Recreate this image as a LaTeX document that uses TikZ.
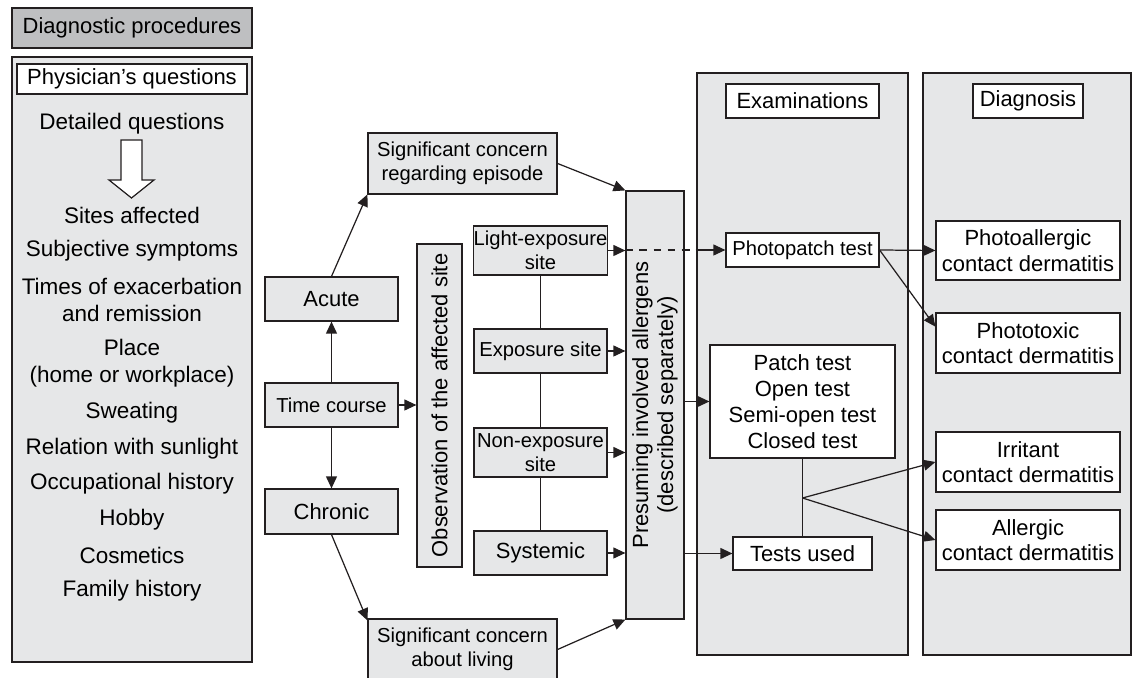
\documentclass[tikz,border=0pt]{standalone}
\usepackage{fontspec}
\setmainfont{Liberation Sans}
\usepackage{tikz}
\usetikzlibrary{arrows.meta, positioning}
\usepackage{xcolor}
\definecolor{boxgray}{RGB}{230,231,232}
\definecolor{headgray}{RGB}{190,191,193}
\definecolor{linegray}{RGB}{35,31,32}

\begin{document}
\begin{tikzpicture}[
        x=0.02cm, y=-0.02cm,
        box/.style={draw=linegray, fill=boxgray, rectangle, inner sep=0pt, align=center, font=\fontsize{12.5}{14.5}\selectfont},
        smallbox/.style={box, font=\fontsize{11.5}{13.7}\selectfont},
        whitebox/.style={box, fill=white},
        panel/.style={draw=linegray, fill=boxgray, rectangle, inner sep=0pt},
        item/.style={align=center, inner sep=0pt, font=\fontsize{12.8}{15.4}\selectfont},
        vtext/.style={rotate=90, align=center, inner sep=0pt, font=\fontsize{12.5}{14.2}\selectfont},
        >={Triangle[length=6.8pt,width=6.2pt]},
        line width=0.7pt
      ]

      \clip (0,0) rectangle (1134,678);

      % Diagnostic procedures
      \node [box, fill=headgray, minimum width=4.8cm, minimum height=0.8cm] (diag) at (132,28) {Diagnostic procedures};
      \node [panel, minimum width=4.8cm, minimum height=12.1cm] (leftpanel) at (132,359.5) {};
      \node [whitebox, minimum width=4.6cm, minimum height=0.6cm] (physq) at (132,79) {Physician's questions};

      \node [item] (detail) at (132,124) {Detailed questions};
      \draw[draw=linegray, fill=white] (121,140) -- (142,140) -- (142,180) -- (154,180) -- (131.5,198) -- (109,180) -- (121,180) -- cycle;
      \node [item] (sites) at (132,215) {Sites affected};
      \node [item] (subj) at (132,251) {Subjective symptoms};
      \node [item] (times) at (132,299.5) {Times of exacerbation\\and remission};
      \node [item] (place) at (132,363) {Place\\(home or workplace)};
      \node [item] (sweat) at (132,413) {Sweating};
      \node [item] (sun) at (132,449) {Relation with sunlight};
      \node [item] (occup) at (132,484) {Occupational history};
      \node [item] (hobby) at (132,520) {Hobby};
      \node [item] (cosm) at (132,555) {Cosmetics};
      \node [item] (family) at (132,591) {Family history};

      % Time course
      \node [smallbox, minimum width=3.78cm, minimum height=1.22cm] (episode) at (462.5,163.5) {Significant concern\\regarding episode};
      \node [box, minimum width=2.66cm, minimum height=0.88cm] (acute) at (331.5,299) {Acute};
      \node [smallbox, minimum width=2.66cm, minimum height=0.88cm] (time) at (331.5,405) {Time course};
      \node [box, minimum width=2.66cm, minimum height=0.9cm] (chronic) at (331.5,511.5) {Chronic};
      \node [smallbox, minimum width=3.78cm, minimum height=1.22cm] (living) at (462.5,649.5) {Significant concern\\about living};

      % Observation of the site
      \node [panel, minimum width=0.9cm, minimum height=6.46cm] (observ) at (439.5,405.5) {};
      \node [vtext] (observtext) at (observ) {Observation of the affected site};

      \node [smallbox, minimum width=2.66cm, minimum height=0.98cm] (light) at (540.5,250.5) {Light-exposure\\site};
      \node [smallbox, minimum width=2.66cm, minimum height=0.88cm] (expo) at (540.5,351) {Exposure site};
      \node [smallbox, minimum width=2.66cm, minimum height=0.98cm] (nonexpo) at (540.5,452.5) {Non-exposure\\site};
      \node [box, minimum width=2.66cm, minimum height=0.88cm] (systemic) at (540.5,553) {Systemic};

      \node [panel, minimum width=1.16cm, minimum height=8.56cm] (presum) at (655,405) {};
      \node [vtext] (presumtext) at (presum) {Presuming involved allergens\\(described separately)};

      % Examinations
      \node [panel, minimum width=4.22cm, minimum height=11.64cm] (exampanel) at (802.5,364) {};
      \node [whitebox, minimum width=3.06cm, minimum height=0.68cm] (examhead) at (802.5,101) {Examinations};
      \node [whitebox, font=\fontsize{11.5}{13.7}\selectfont, minimum width=3.06cm, minimum height=0.68cm] (photopatch) at (802.5,250) {Photopatch test};
      \node [whitebox, font=\fontsize{12.5}{14.8}\selectfont, minimum width=3.7cm, minimum height=2.26cm] (patch) at (802.5,401.5) {Patch test\\Open test\\Semi-open test\\Closed test};
      \node [whitebox, minimum width=2.78cm, minimum height=0.66cm] (tests) at (802.5,553.5) {Tests used};

      % Diagnosis
      \node [panel, minimum width=4.16cm, minimum height=11.64cm] (diagpanel) at (1027,364) {};
      \node [whitebox, minimum width=2.2cm, minimum height=0.68cm] (diaghead) at (1028,101) {Diagnosis};
      \node [whitebox, minimum width=3.68cm, minimum height=1.18cm] (photoallergic) at (1028,250.5) {Photoallergic\\contact dermatitis};
      \node [whitebox, minimum width=3.68cm, minimum height=1.2cm] (phototoxic) at (1028,343) {Phototoxic\\contact dermatitis};
      \node [whitebox, minimum width=3.68cm, minimum height=1.2cm] (irritant) at (1028,462) {Irritant\\contact dermatitis};
      \node [whitebox, minimum width=3.68cm, minimum height=1.2cm] (allergic) at (1028,540) {Allergic\\contact dermatitis};

      % Connectors
      \draw[->, draw=linegray] (acute.north) -- (episode.198);
      \draw[->, draw=linegray] (time.north) -- (acute.south);
      \draw[->, draw=linegray] (time.south) -- (chronic.north);
      \draw[->, draw=linegray] (time.east) -- (time.east -| observ.west);
      \draw[->, draw=linegray] (chronic.south) -- (living.163);
      \draw[->, draw=linegray] (episode.east) -- (presum.north west);
      \draw[->, draw=linegray] (living.east) -- (presum.south west);

      \draw[draw=linegray] (light.south) -- (expo.north);
      \draw[draw=linegray] (expo.south) -- (nonexpo.north);
      \draw[draw=linegray] (nonexpo.south) -- (systemic.north);

      \draw[->, draw=linegray] (light.east) -- (light.east -| presum.west);
      \draw[->, draw=linegray] (expo.east) -- (expo.east -| presum.west);
      \draw[->, draw=linegray] (nonexpo.east) -- (nonexpo.east -| presum.west);
      \draw[->, draw=linegray] (systemic.east) -- (systemic.east -| presum.west);

      \draw[dash pattern=on 4.5pt off 3.5pt, draw=linegray] (photopatch.west -| presum.west) -- (photopatch.west -| exampanel.west);
      \draw[->, draw=linegray] (photopatch.west -| exampanel.west) -- (photopatch.west);
      \draw[->, draw=linegray] (patch.west -| presum.east) -- (patch.west);
      \draw[->, draw=linegray] (tests.west -| presum.east) -- (tests.west);

      \draw[->, draw=linegray] (photopatch.east) -- (photoallergic.west);
      \draw[->, draw=linegray] (photopatch.east) -- (phototoxic.170);

      \coordinate (branch) at (802.5,498);
      \draw[draw=linegray] (patch.south) -- (tests.north);
      \draw[->, draw=linegray] (branch) -- (irritant.west);
      \draw[->, draw=linegray] (branch) -- (allergic.west);

    \end{tikzpicture}
\end{document}
